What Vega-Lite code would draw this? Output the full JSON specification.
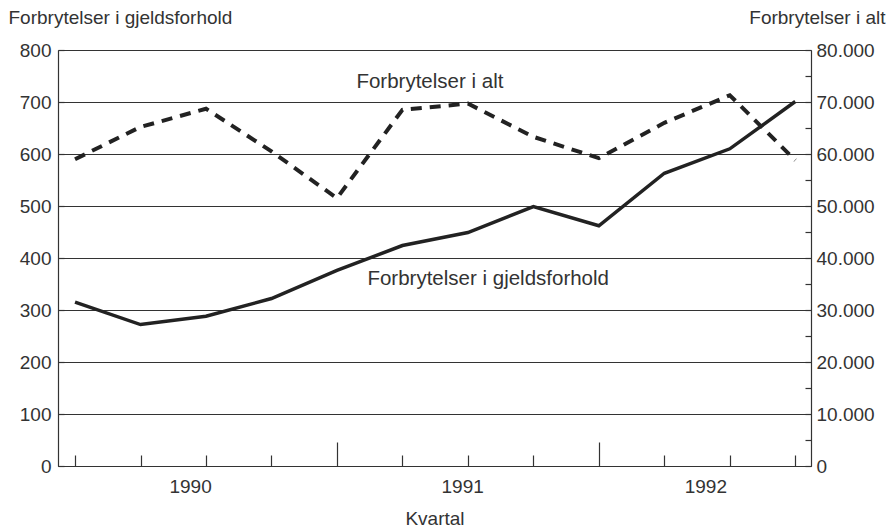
{
  "$schema": "https://vega.github.io/schema/vega-lite/v6.json",
  "width": 753,
  "height": 416,
  "autosize": "none",
  "padding": {"left": 58, "top": 50, "right": 81, "bottom": 63},
  "background": "white",
  "config": {
    "font": "Liberation Sans",
    "view": {"stroke": null},
    "axis": {
      "labelFont": "Liberation Sans",
      "labelFontSize": 19,
      "labelColor": "#333",
      "titleFont": "Liberation Sans",
      "titleFontSize": 19,
      "titleFontWeight": "normal",
      "titleColor": "#333",
      "domainColor": "#333",
      "domainWidth": 1.2,
      "tickColor": "#333",
      "tickWidth": 1.2
    }
  },
  "data": {
    "values": [
      {"q": 1, "gjeld": 315, "alt": 59000},
      {"q": 2, "gjeld": 272, "alt": 65200},
      {"q": 3, "gjeld": 288, "alt": 68700},
      {"q": 4, "gjeld": 322, "alt": 60500},
      {"q": 5, "gjeld": 376, "alt": 51500},
      {"q": 6, "gjeld": 424, "alt": 68500},
      {"q": 7, "gjeld": 449, "alt": 69700},
      {"q": 8, "gjeld": 499, "alt": 63300},
      {"q": 9, "gjeld": 462, "alt": 59200},
      {"q": 10, "gjeld": 563, "alt": 66000},
      {"q": 11, "gjeld": 610, "alt": 71300},
      {"q": 12, "gjeld": 701, "alt": 58800}
    ]
  },
  "layer": [
    {
      "layer": [
        {
          "mark": {"type": "line", "color": "#222", "strokeWidth": 3.5},
          "encoding": {
            "x": {
              "field": "q",
              "type": "quantitative",
              "scale": {"domain": [0.74, 12.24], "nice": false, "zero": false},
              "axis": {
                "values": [1, 2, 2.757, 3, 4, 5, 6, 6.913, 7, 8, 9, 10, 10.626, 11, 12],
                "labelExpr": "datum.value == 2.757 ? '1990' : datum.value == 6.913 ? '1991' : datum.value == 10.626 ? '1992' : ''",
                "tickSize": {"condition": {"test": "datum.value == 5 || datum.value == 9", "value": -24}, "value": -11},
                "tickOpacity": {"condition": {"test": "datum.value % 1 != 0", "value": 0}, "value": 1},
                "grid": false,
                "title": "Kvartal",
                "labelPadding": 22,
                "titlePadding": 13
              }
            },
            "y": {
              "field": "gjeld",
              "type": "quantitative",
              "scale": {"domain": [0, 800], "nice": false},
              "axis": {
                "values": [0, 50, 100, 150, 200, 250, 300, 350, 400, 450, 500, 550, 600, 650, 700, 750, 800],
                "labelExpr": "datum.value % 100 == 0 ? datum.label : ''",
                "tickSize": -6,
                "labelPadding": 13,
                "grid": true,
                "gridColor": "#333",
                "gridWidth": 1.2,
                "gridOpacity": {"condition": {"test": "datum.value % 100 == 0", "value": 1}, "value": 0},
                "title": "Forbrytelser i gjeldsforhold",
                "titleAngle": 0,
                "titleAlign": "left",
                "titleBaseline": "alphabetic",
                "titleX": -50,
                "titleY": -27
              }
            }
          }
        },
        {
          "data": {"values": [{"label": "Forbrytelser i alt"}]},
          "mark": {"type": "text", "fontSize": 20.5, "color": "#333", "font": "Liberation Sans"},
          "encoding": {
            "text": {"field": "label"},
            "x": {"datum": 6.42, "type": "quantitative"},
            "y": {"datum": 738, "type": "quantitative"}
          }
        },
        {
          "data": {"values": [{"label": "Forbrytelser i gjeldsforhold"}]},
          "mark": {"type": "text", "fontSize": 20.5, "color": "#333", "font": "Liberation Sans"},
          "encoding": {
            "text": {"field": "label"},
            "x": {"datum": 7.31, "type": "quantitative"},
            "y": {"datum": 360, "type": "quantitative"}
          }
        }
      ]
    },
    {
      "mark": {"type": "line", "color": "#222", "strokeWidth": 4, "strokeDash": [11, 8]},
      "encoding": {
        "x": {"field": "q", "type": "quantitative"},
        "y": {
          "field": "alt",
          "type": "quantitative",
          "scale": {"domain": [0, 80000], "nice": false},
          "axis": {
            "orient": "right",
            "values": [0, 5000, 10000, 15000, 20000, 25000, 30000, 35000, 40000, 45000, 50000, 55000, 60000, 65000, 70000, 75000, 80000],
            "labelExpr": "datum.value % 10000 == 0 ? replace(format(datum.value, ','), ',', '.') : ''",
            "tickSize": -6,
            "labelPadding": 11,
            "grid": false,
            "title": "Forbrytelser i alt",
            "titleAngle": 0,
            "titleAlign": "right",
            "titleBaseline": "alphabetic",
            "titleX": 74,
            "titleY": -27
          }
        }
      }
    }
  ],
  "resolve": {"scale": {"y": "independent"}, "axis": {"y": "independent"}}
}
